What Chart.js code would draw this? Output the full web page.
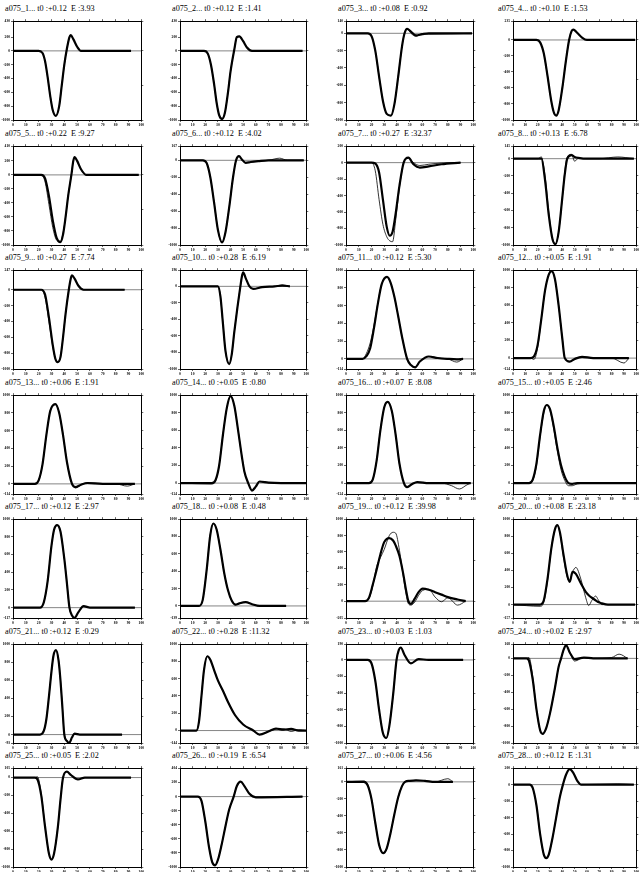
<!DOCTYPE html>
<html>
<head>
<meta charset="utf-8">
<title>a075 waveform fits</title>
<script src="https://cdn.jsdelivr.net/npm/chart.js@4.4.1/dist/chart.umd.min.js"></script>
<style>
  html, body { margin: 0; padding: 0; background: #fff; }
  body { width: 639px; height: 872px; position: relative; overflow: hidden; }
  .ttl { position: absolute; font: 8.2px "Liberation Serif", "DejaVu Serif", serif; line-height: 10px; white-space: pre; color: #000; }
  .cell { position: absolute; }
</style>
</head>
<body>
<script>
// titres des panneaux (ordre ligne par ligne)
const titles = [
    "a075_1... t0 :+0.12  E :3.93", "a075_2... t0 :+0.12  E :1.41", "a075_3... t0 :+0.08  E :0.92", "a075_4... t0 :+0.10  E :1.53",
    "a075_5... t0 :+0.22  E :9.27", "a075_6... t0 :+0.12  E :4.02", "a075_7... t0 :+0.27  E :32.37", "a075_8... t0 :+0.13  E :6.78",
    "a075_9... t0 :+0.27  E :7.74", "a075_10... t0 :+0.28  E :6.19", "a075_11... t0 :+0.12  E :5.30", "a075_12... t0 :+0.05  E :1.91",
    "a075_13... t0 :+0.06  E :1.91", "a075_14... t0 :+0.05  E :0.80", "a075_16... t0 :+0.07  E :8.08", "a075_15... t0 :+0.05  E :2.46",
    "a075_17... t0 :+0.12  E :2.97", "a075_18... t0 :+0.08  E :0.48", "a075_19... t0 :+0.12  E :39.98", "a075_20... t0 :+0.08  E :23.18",
    "a075_21... t0 :+0.12  E :0.29", "a075_22... t0 :+0.28  E :11.32", "a075_23... t0 :+0.03  E :1.03", "a075_24... t0 :+0.02  E :2.97",
    "a075_25... t0 :+0.05  E :2.02", "a075_26... t0 :+0.19  E :6.54", "a075_27... t0 :+0.06  E :4.56", "a075_28... t0 :+0.12  E :1.31",
];

// bornes des axes y
const yMin = [-1, -1, -1, -1, -1, -1, -1, -1, -1, -1, -0.114, -0.124, -0.114, -0.124, -0.124, -0.124,
    -0.117, -0.139, -0.205, -0.157, -0.093, -0.144, -1, -1, -1, -1, -1, -1];
const yMax = [0.43, 0.43, 0.14, 0.235, 0.41, 0.167, 0.2, 0.145, 0.247, 0.196, 1, 1, 1, 1, 1, 1,
    1, 1, 1, 1, 1, 1, 0.19, 0.168, 0.105, 0.404, 0.161, 0.2];

const xTicks = [0, 0.1, 0.2, 0.3, 0.4, 0.5, 0.6, 0.7, 0.8, 0.9, 1];
const zeroX = [0, 1];
const zeroY = [0, 0];

// fit = trait épais, obs = trait fin
const x01 = [0, .2, .23, .25, .27, .29, .31, .334, .36, .38, .40, .42, .44, .45, .47, .50, .53, .92];
const fit01 = [0, 0, -.03, -.15, -.38, -.65, -.86, -.94, -.8, -.5, -.2, .03, .2, .23, .17, .06, 0, 0];
const obs01 = fit01;

const x02 = [0, .19, .22, .245, .27, .29, .31, .333, .355, .38, .40, .43, .45, .47, .50, .53, .57, .97];
const fit02 = [0, 0, -.04, -.2, -.48, -.75, -.93, -.985, -.9, -.6, -.3, .02, .2, .21, .14, .05, 0, 0];
const obs02 = fit02;

const x03 = [0, .17, .2, .23, .26, .29, .32, .353, .38, .41, .44, .46, .48, .51, .55, .6, .65, .99];
const fit03 = [0, 0, -.03, -.2, -.5, -.78, -.93, -.95, -.82, -.5, -.15, 0, .05, .02, -.025, -.01, 0, 0];
const obs03 = [0, 0, -.03, -.2, -.5, -.78, -.93, -.95, -.82, -.5, -.15, 0, .055, 0, -.035, -.005, -.01, 0];

const x04 = [0, .19, .22, .25, .28, .31, .33, .35, .37, .40, .43, .455, .475, .49, .52, .56, .6, .99];
const fit04 = [0, 0, -.03, -.17, -.45, -.76, -.9, -.945, -.88, -.6, -.25, 0, .11, .13, .09, .03, 0, 0];
const obs04 = fit04;

const x05 = [0, .22, .25, .28, .31, .34, .369, .39, .41, .43, .455, .47, .48, .5, .53, .57, .98];
const fit05 = [0, 0, -.05, -.3, -.65, -.9, -.96, -.85, -.6, -.3, 0, .2, .255, .2, .08, 0, 0];
const obs05 = [0, 0, -.1, -.42, -.75, -.93, -.95, -.83, -.6, -.3, 0, .2, .25, .2, .08, 0, 0];

const x06 = [0, .18, .21, .24, .27, .3, .333, .36, .39, .42, .444, .467, .49, .52, .56, .62, .7, .79, .85, .98];
const fit06 = [0, 0, -.03, -.2, -.5, -.82, -.97, -.85, -.55, -.2, 0, .05, .01, -.03, -.02, -.01, 0, 0, 0, 0];
const obs06 = [0, 0, -.03, -.2, -.5, -.82, -.97, -.85, -.55, -.2, 0, .05, .01, -.03, -.02, -.01, 0, .025, 0, 0];

const x07 = [0, .2, .23, .26, .29, .32, .344, .366, .39, .42, .453, .49, .53, .58, .65, .75, .9];
const fit07 = [0, 0, -.01, -.12, -.45, -.78, -.888, -.84, -.62, -.28, 0, .06, -.02, -.06, -.045, -.02, 0];
const obs07 = [0, 0, -.1, -.45, -.75, -.9, -.95, -.96, -.7, -.3, 0, .06, 0, -.035, -.02, -.005, 0];

const x08 = [0, .2, .23, .26, .29, .32, .344, .37, .4, .42, .44, .475, .5, .53, .6, .7, .85, .98];
const fit08 = [0, 0, 0, -.25, -.65, -.93, -.99, -.85, -.45, -.18, 0, .04, .02, .01, 0, 0, 0, 0];
const obs08 = [0, 0, .02, -.2, -.62, -.92, -.99, -.85, -.45, -.15, .02, .05, -.03, .005, 0, 0, .02, 0];

const x09 = [0, .22, .25, .28, .31, .33, .348, .37, .39, .41, .435, .45, .46, .48, .51, .55, .87];
const fit09 = [0, 0, -.06, -.35, -.7, -.87, -.913, -.85, -.6, -.3, 0, .14, .18, .14, .05, 0, 0];
const obs09 = [0, 0, -.1, -.4, -.72, -.87, -.913, -.85, -.6, -.3, 0, .14, .18, .14, .05, 0, 0];

const x10 = [0, .3, .32, .34, .36, .39, .41, .43, .455, .478, .49, .5, .52, .55, .58, .65, .75, .81, .87];
const fit10 = [0, 0, -.12, -.45, -.78, -.94, -.82, -.55, -.25, 0, .12, .17, .1, 0, -.03, -.01, 0, .01, 0];
const obs10 = [0, 0, -.12, -.45, -.78, -.94, -.82, -.55, -.25, 0, .12, .17, .1, 0, -.03, -.01, 0, .018, 0];

const x11 = [0, .13, .16, .19, .22, .25, .28, .322, .35, .38, .41, .44, .48, .51, .543, .58, .65, .72, .8, .87, .92];
const fit11 = [0, 0, .03, .12, .35, .62, .84, .924, .86, .7, .48, .25, 0, -.07, -.095, -.03, .027, .01, 0, -.005, 0];
const obs11 = [0, 0, .06, .18, .38, .63, .84, .924, .86, .7, .48, .25, 0, -.07, -.095, -.03, .027, .01, 0, -.036, 0];

const x12 = [0, .14, .17, .2, .23, .26, .29, .313, .34, .37, .4, .42, .46, .5, .56, .65, .8, .9, .94];
const fit12 = [0, 0, .02, .15, .45, .77, .95, .99, .9, .6, .22, 0, -.04, -.01, .015, 0, 0, 0, 0];
const obs12 = [0, 0, -.015, .12, .45, .77, .95, .99, .9, .6, .22, 0, -.04, -.01, .015, 0, 0, -.056, 0];

const x13 = [0, .17, .2, .23, .26, .29, .33, .36, .39, .42, .46, .49, .53, .58, .7, .8, .89, .95];
const fit13 = [0, 0, .04, .22, .55, .82, .9, .8, .55, .25, 0, -.036, -.01, .01, 0, 0, 0, 0];
const obs13 = [0, 0, .04, .22, .55, .82, .9, .8, .55, .25, 0, -.045, -.01, .012, 0, 0, -.025, 0];

const x14 = [0, .25, .28, .31, .34, .37, .4, .43, .46, .49, .51, .54, .57, .6, .63, .7, .8, 1];
const fit14 = [0, 0, .03, .2, .55, .85, .99, .88, .6, .3, .13, 0, -.085, -.04, .018, .005, 0, 0];
const obs14 = [0, -.01, .02, .2, .55, .85, .99, .88, .6, .3, .13, 0, -.085, -.04, .018, .005, 0, 0];

const x15 = [0, .18, .21, .24, .27, .3, .327, .36, .39, .42, .455, .48, .52, .56, .65, .75, .83, .89, .95, .98];
const fit15 = [0, 0, .04, .25, .6, .86, .924, .82, .55, .22, 0, -.046, -.01, .012, 0, 0, 0, 0, 0, 0];
const obs15 = [0, 0, .04, .25, .6, .86, .924, .82, .55, .22, 0, -.046, -.01, .012, 0, 0, -.03, -.067, -.02, 0];

const x16 = [0, .13, .16, .19, .22, .25, .274, .3, .33, .36, .39, .42, .45, .48, .52, .6, .75, 1];
const fit16 = [0, 0, .04, .22, .55, .82, .888, .84, .65, .4, .2, .07, 0, -.01, 0, 0, 0, 0];
const obs16 = [0, 0, .03, .2, .53, .8, .89, .83, .62, .36, .15, .03, -.03, -.03, -.01, 0, 0, 0];

const x17 = [0, .21, .24, .27, .3, .32, .344, .37, .4, .42, .44, .46, .48, .51, .55, .6, .95];
const fit17 = [0, 0, .06, .3, .7, .88, .933, .86, .55, .28, 0, -.09, -.115, -.05, .017, 0, 0];
const obs17 = fit17;

const x18 = [0, .15, .18, .21, .24, .264, .29, .32, .35, .38, .41, .44, .47, .52, .57, .63, .84];
const fit18 = [0, 0, .07, .4, .82, .95, .88, .65, .38, .18, .06, .015, .03, .043, .02, 0, 0];
const obs18 = fit18;

const x19 = [0, .15, .18, .21, .24, .27, .3, .34, .37, .39, .42, .45, .47, .49, .51, .54, .57, .602, .65, .7, .75, .8, .877, .94];
const fit19 = [0, 0, .04, .2, .38, .57, .72, .77, .74, .68, .55, .33, .15, 0, -.033, .03, .11, .153, .14, .11, .08, .05, .02, 0];
const obs19 = [0, 0, .03, .18, .42, .53, .63, .8, .84, .83, .62, .3, .1, -.03, -.048, -.01, .07, .13, .145, .05, -.007, .042, -.048, 0];

const x20 = [0, .22, .25, .28, .31, .34, .36, .38, .41, .44, .46, .483, .51, .55, .59, .614, .64, .67, .69, .72, .77, .85, .99];
const fit20 = [0, 0, .05, .3, .65, .88, .93, .85, .58, .34, .265, .384, .36, .25, .15, .11, .08, .05, .03, .015, 0, 0, 0];
const obs20 = [0, -.02, .03, .28, .64, .88, .93, .84, .55, .32, .27, .38, .435, .3, .08, -.011, .05, .1, .06, 0, 0, 0, 0];

const x21 = [0, .21, .24, .26, .28, .3, .315, .335, .355, .37, .385, .4, .42, .438, .46, .48, .52, .85];
const fit21 = [0, 0, .04, .17, .42, .7, .87, .933, .82, .6, .3, 0, -.07, -.093, -.03, .01, 0, 0];
const obs21 = fit21;

const x22 = [0, .13, .15, .17, .19, .216, .24, .27, .3, .34, .38, .435, .5, .58, .63, .7, .76, .82, .88, .94, 1];
const fit22 = [0, 0, .1, .4, .7, .86, .82, .7, .58, .46, .33, .18, .07, 0, -.047, -.01, .024, .01, .02, 0, 0];
const obs22 = [0, 0, .1, .4, .7, .86, .82, .7, .58, .46, .33, .18, .07, 0, -.047, -.01, .015, .02, -.01, .01, 0];

const x23 = [0, .17, .2, .23, .26, .29, .317, .34, .37, .397, .415, .43, .46, .51, .57, .65, .92];
const fit23 = [0, 0, -.04, -.25, -.6, -.88, -.94, -.8, -.42, 0, .12, .15, .06, -.042, .01, 0, 0];
const obs23 = fit23;

const x24 = [0, .11, .13, .16, .19, .22, .24, .27, .3, .34, .37, .39, .41, .43, .46, .5, .575, .65, .8, .86, .93];
const fit24 = [0, 0, -.03, -.25, -.6, -.85, -.892, -.82, -.65, -.35, -.1, 0, .1, .156, .07, -.01, .01, 0, 0, 0, 0];
const obs24 = [0, 0, .01, -.22, -.6, -.85, -.892, -.82, -.65, -.35, -.1, 0, .1, .156, .07, -.032, .01, 0, .01, .05, 0];

const x25 = [0, .17, .19, .22, .25, .28, .3, .32, .35, .37, .39, .42, .45, .506, .56, .92];
const fit25 = [0, 0, -.02, -.2, -.55, -.85, -.917, -.85, -.55, -.25, 0, .067, .03, -.021, 0, 0];
const obs25 = [0, 0, .01, -.18, -.55, -.85, -.917, -.85, -.55, -.25, 0, .067, .03, -.021, 0, 0];

const x26 = [0, .14, .17, .2, .23, .255, .278, .3, .33, .36, .39, .425, .45, .48, .51, .55, .6, .97];
const fit26 = [0, 0, -.06, -.35, -.72, -.93, -.976, -.9, -.68, -.42, -.18, 0, .15, .213, .15, .04, -.01, 0];
const obs26 = fit26;

const x27 = [0, .14, .17, .2, .23, .26, .292, .32, .35, .38, .41, .44, .464, .5, .55, .62, .7, .8, .84];
const fit27 = [0, 0, -.04, -.2, -.48, -.74, -.837, -.78, -.6, -.38, -.18, -.05, 0, .012, .018, .012, 0, 0, 0];
const obs27 = [0, .01, -.03, -.2, -.48, -.74, -.837, -.78, -.6, -.38, -.18, -.05, 0, .012, .018, .012, 0, .037, 0];

const x28 = [0, .135, .16, .19, .22, .25, .27, .29, .32, .35, .38, .405, .43, .46, .49, .52, .554, .85, .98];
const fit28 = [0, 0, -.04, -.25, -.6, -.85, -.892, -.85, -.65, -.4, -.15, 0, .12, .188, .14, .05, 0, 0, 0];
const obs28 = [0, 0, -.04, -.25, -.6, -.85, -.892, -.85, -.65, -.4, -.15, 0, .12, .188, .14, .05, 0, .01, 0];

const panels = [
    [x01, fit01, obs01], [x02, fit02, obs02], [x03, fit03, obs03], [x04, fit04, obs04],
    [x05, fit05, obs05], [x06, fit06, obs06], [x07, fit07, obs07], [x08, fit08, obs08],
    [x09, fit09, obs09], [x10, fit10, obs10], [x11, fit11, obs11], [x12, fit12, obs12],
    [x13, fit13, obs13], [x14, fit14, obs14], [x15, fit15, obs15], [x16, fit16, obs16],
    [x17, fit17, obs17], [x18, fit18, obs18], [x19, fit19, obs19], [x20, fit20, obs20],
    [x21, fit21, obs21], [x22, fit22, obs22], [x23, fit23, obs23], [x24, fit24, obs24],
    [x25, fit25, obs25], [x26, fit26, obs26], [x27, fit27, obs27], [x28, fit28, obs28],
];

// mise en page (px)
const colBoxLeft = [13, 180, 346, 513];
const colBoxWidth = [129, 127, 128, 124];
const colTitleLeft = [5, 172, 338, 498];
const BOX_H = 99;

const tickFont = { family: "Liberation Serif", size: 3.6, weight: "bold" };

function pts(xs, ys) {
    return xs.map((x, i) => ({ x: x, y: ys[i] }));
}

function frameAxis(extra) {
    return Object.assign({
        ticks: { display: false },
        grid: { drawOnChartArea: false, tickLength: 2, color: "#000", lineWidth: 0.6 },
        border: { color: "#000", width: 1 },
    }, extra);
}

panels.forEach((p, i) => {
    const r = Math.floor(i / 4);
    const c = i % 4;
    const boxTop = 21 + r * 124.5;

    const t = document.createElement("div");
    t.className = "ttl";
    t.style.left = colTitleLeft[c] + "px";
    t.style.top = (boxTop - 17) + "px";
    t.textContent = titles[i];
    document.body.appendChild(t);

    const cell = document.createElement("div");
    cell.className = "cell";
    cell.style.left = (colBoxLeft[c] - 12) + "px";
    cell.style.top = (boxTop - 3) + "px";
    cell.style.width = (colBoxWidth[c] + 15) + "px";
    cell.style.height = (BOX_H + 10) + "px";
    const canvas = document.createElement("canvas");
    cell.appendChild(canvas);
    document.body.appendChild(cell);

    new Chart(canvas, {
        type: "line",
        data: {
            datasets: [
                {
                    data: pts(p[0], p[1]),
                    borderColor: "#000",
                    borderWidth: 2.2,
                    pointRadius: 0,
                    cubicInterpolationMode: "monotone",
                    order: 2,
                },
                {
                    data: pts(p[0], p[2]),
                    borderColor: "#000",
                    borderWidth: 0.8,
                    pointRadius: 0,
                    cubicInterpolationMode: "monotone",
                    order: 1,
                },
                {
                    data: pts(zeroX, zeroY),
                    borderColor: "#333",
                    borderWidth: 0.6,
                    pointRadius: 0,
                    order: 3,
                },
            ],
        },
        options: {
            animation: false,
            responsive: true,
            maintainAspectRatio: false,
            layout: { padding: { top: 3, right: 3, left: 0, bottom: 0 } },
            plugins: { legend: { display: false }, tooltip: { enabled: false } },
            scales: {
                x: {
                    type: "linear",
                    min: 0,
                    max: 1,
                    afterBuildTicks: s => { s.ticks = xTicks.map(v => ({ value: v })); },
                    ticks: {
                        font: tickFont, color: "#000", padding: 1, maxRotation: 0, minRotation: 0,
                        autoSkip: false,
                        callback: v => String(Math.round(v * 100)),
                    },
                    grid: { drawOnChartArea: false, tickLength: 2, color: "#000", lineWidth: 0.6 },
                    border: { color: "#000", width: 1 },
                    afterFit: s => { s.height = 7; },
                },
                y: {
                    min: yMin[i],
                    max: yMax[i],
                    ticks: {
                        font: tickFont, color: "#000", padding: 1, maxTicksLimit: 9,
                        callback: v => String(Math.round(v * 1000)),
                    },
                    grid: { drawOnChartArea: false, tickLength: 2, color: "#000", lineWidth: 0.6 },
                    border: { color: "#000", width: 1 },
                    afterFit: s => { s.width = 12; },
                },
                xTop: frameAxis({
                    type: "linear", position: "top", min: 0, max: 1,
                    afterBuildTicks: s => { s.ticks = xTicks.map(v => ({ value: v })); },
                    afterFit: s => { s.height = 0; },
                }),
                yRight: frameAxis({
                    position: "right", min: yMin[i], max: yMax[i],
                    afterFit: s => { s.width = 0; },
                }),
            },
        },
    });
});
</script>
</body>
</html>
